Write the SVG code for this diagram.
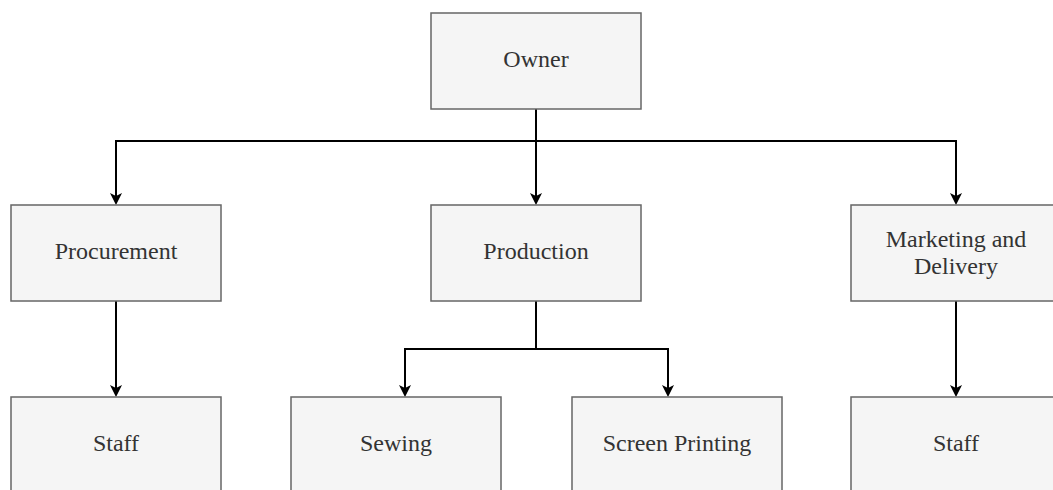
<svg xmlns="http://www.w3.org/2000/svg" width="1053" height="490" viewBox="0 0 1053 490">
  <style>
    .box rect { fill: #f5f5f5; stroke: #666666; stroke-width: 1.5; }
    .box text { font-family: "Liberation Serif", "Times New Roman", serif; font-size: 24px; fill: #333333; text-anchor: middle; }
    .edge { fill: none; stroke: #000000; stroke-width: 2; marker-end: url(#arrow); }
    .line { fill: none; stroke: #000000; stroke-width: 2; }
  </style>
  <defs>
    <marker id="arrow" markerUnits="userSpaceOnUse" markerWidth="30" markerHeight="30" refX="0" refY="0" orient="auto" overflow="visible">
      <path d="M9 0 L-3 -6 L0 0 L-3 6 Z" fill="#000000"/>
    </marker>
  </defs>

  <rect width="1053" height="490" fill="#ffffff"/>

  <!-- connectors -->
  <g id="connectors">
    <path class="line" d="M536 109 V141"/>
    <path class="edge" d="M536 141 H116 V196"/>
    <path class="edge" d="M536 141 V196"/>
    <path class="edge" d="M536 141 H956 V196"/>
    <path class="edge" d="M116 301 V388"/>
    <path class="line" d="M536 301 V349"/>
    <path class="edge" d="M536 349 H405 V388"/>
    <path class="edge" d="M536 349 H668 V388"/>
    <path class="edge" d="M956 301 V388"/>
  </g>

  <!-- nodes -->
  <g id="owner" class="box">
    <rect x="431" y="13" width="210" height="96"/>
    <text x="536" y="67">Owner</text>
  </g>
  <g id="procurement" class="box">
    <rect x="11" y="205" width="210" height="96"/>
    <text x="116" y="259">Procurement</text>
  </g>
  <g id="production" class="box">
    <rect x="431" y="205" width="210" height="96"/>
    <text x="536" y="259">Production</text>
  </g>
  <g id="marketing" class="box">
    <rect x="851" y="205" width="210" height="96"/>
    <text x="956" y="246.5">Marketing and</text>
    <text x="956" y="273.5">Delivery</text>
  </g>
  <g id="procurement-staff" class="box">
    <rect x="11" y="397" width="210" height="96"/>
    <text x="116" y="451">Staff</text>
  </g>
  <g id="sewing" class="box">
    <rect x="291" y="397" width="210" height="96"/>
    <text x="396" y="451">Sewing</text>
  </g>
  <g id="screen-printing" class="box">
    <rect x="572" y="397" width="210" height="96"/>
    <text x="677" y="451">Screen Printing</text>
  </g>
  <g id="marketing-staff" class="box">
    <rect x="851" y="397" width="210" height="96"/>
    <text x="956" y="451">Staff</text>
  </g>
</svg>
